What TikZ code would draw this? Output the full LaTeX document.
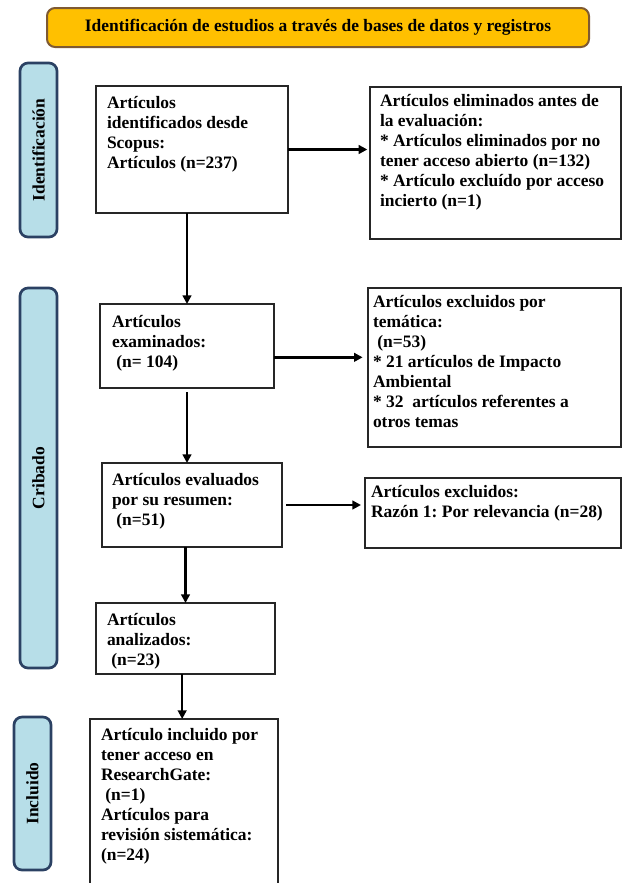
\documentclass[tikz,border=0pt]{standalone}
\usepackage{fontspec}
\setmainfont{Liberation Serif}
\usetikzlibrary{fit,arrows.meta}
\definecolor{gold}{HTML}{FFC000}
\definecolor{goldedge}{HTML}{7F5A32}
\definecolor{sidefill}{HTML}{B7DEE8}
\definecolor{sideedge}{HTML}{2B4163}
\definecolor{boxedge}{HTML}{262626}
\frenchspacing
\begin{document}
\begin{tikzpicture}[x=0.75pt,y=-0.75pt,
  every node/.style={inner sep=0pt, outer sep=0pt},
  headbox/.style={draw=goldedge, fill=gold, line width=1.5pt, rounded corners=6pt},
  sidebox/.style={draw=sideedge, fill=sidefill, line width=2pt, rounded corners=6pt},
  flowbox/.style={draw=boxedge, line width=1.1pt},
  txt/.style={anchor=base west, font=\bfseries\fontsize{13.1pt}{15pt}\selectfont},
  sidetxt/.style={rotate=90, font=\bfseries\fontsize{13.1pt}{15pt}\selectfont},
  headtxt/.style={font=\bfseries\fontsize{13.1pt}{15pt}\selectfont},
  arr/.style={draw=black, line width=1.8pt, -{Triangle[length=6.5pt,width=6.5pt]}}
]
\useasboundingbox (0,0) rectangle (624,883);
\clip (0,0) rectangle (624,883);

% header
\node[headbox, fit={(47,8) (589,47)}] (h) {};
\node[headtxt] (ht) at (h.center) {Identificación de estudios a través de bases de datos y registros};

% side bars
\node[sidebox, fit={(20,63) (57,237)}] (s1) {};
\node[sidetxt] (st1) at (s1.center) {Identificación};
\node[sidebox, fit={(20,288) (57,668)}] (s2) {};
\node[sidetxt] (st2) at (s2.center) {Cribado};
\node[sidebox, fit={(14,717) (51,870)}] (s3) {};
\node[sidetxt] (st3) at (s3.center) {Incluido};

% boxes
\node[flowbox, fit={(96,86) (288,213)}] (b1) {};
\node[flowbox, fit={(370,87) (621,239)}] (b2) {};
\node[flowbox, fit={(100,304) (274,388)}] (b3) {};
\node[flowbox, fit={(368,288) (621,447)}] (b4) {};
\node[flowbox, fit={(102,463) (282,547)}] (b5) {};
\node[flowbox, fit={(365,478) (621,548)}] (b6) {};
\node[flowbox, fit={(96,603) (275,674)}] (b7) {};
\node[flowbox, fit={(90,719) (278,900)}] (b8) {};

% texts
\node[txt] (t1) at (107,108) {\begin{tabular}[t]{@{}l@{}}Artículos\\identificados desde\\Scopus:\\Artículos (n=237)\end{tabular}};
\node[txt] (t2) at (380,106) {\begin{tabular}[t]{@{}l@{}}Artículos eliminados antes de\\la evaluación:\\{}* Artículos eliminados por no\\tener acceso abierto (n=132)\\{}* Artículo excluído por acceso\\incierto (n=1)\end{tabular}};
\node[txt] (t3) at (112,327) {\begin{tabular}[t]{@{}l@{}}Artículos\\examinados:\\\ (n= 104)\end{tabular}};
\node[txt] (t4) at (373,307) {\begin{tabular}[t]{@{}l@{}}Artículos excluidos por\\temática:\\\ (n=53)\\{}* 21 artículos de Impacto\\Ambiental\\{}* 32\ \ artículos referentes a\\otros temas\end{tabular}};
\node[txt] (t5) at (112,485) {\begin{tabular}[t]{@{}l@{}}Artículos evaluados\\por su resumen:\\\ (n=51)\end{tabular}};
\node[txt] (t6) at (371,497) {\begin{tabular}[t]{@{}l@{}}Artículos excluidos:\\Razón 1: Por relevancia (n=28)\end{tabular}};
\node[txt] (t7) at (107,625) {\begin{tabular}[t]{@{}l@{}}Artículos\\analizados:\\\ (n=23)\end{tabular}};
\node[txt] (t8) at (101,740) {\begin{tabular}[t]{@{}l@{}}Artículo incluido por\\tener acceso en\\ResearchGate:\\\ (n=1)\\Artículos para\\revisión sistemática:\\(n=24)\end{tabular}};

% connectors
\draw[arr, shorten >=2pt] (b1.east) -- (b1.east -| b2.west);
\draw[arr] (b3.north |- b1.south) -- (b3.north);
\coordinate (a3s) at ([yshift=-8.5pt]b3.east);
\draw[arr, shorten >=4pt] (a3s) -- (a3s -| b4.west);
\draw[arr, shorten <=3pt] (b3.south) -- (b3.south |- b5.north);
\draw[arr, shorten <=3pt, shorten >=3pt] (b5.east) -- (b5.east -| b6.west);
\draw[arr] (b7.north |- b5.south) -- (b7.north);
\coordinate (a7s) at ([xshift=-2.5pt]b7.south);
\draw[arr] (a7s) -- (a7s |- b8.north);
\end{tikzpicture}
\end{document}
